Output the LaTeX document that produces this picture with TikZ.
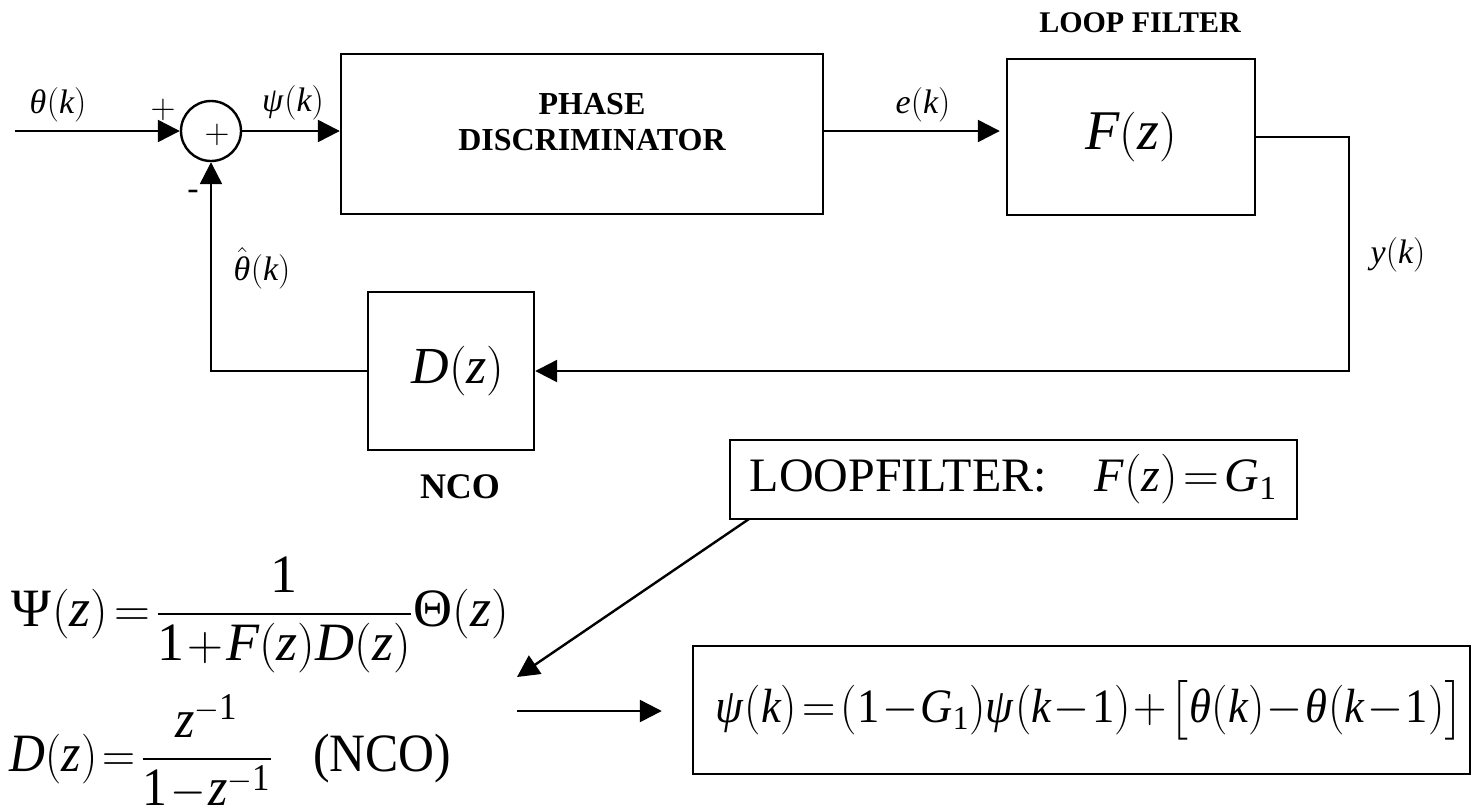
\documentclass[tikz,border=0pt]{standalone}
\usepackage{amsmath}
\usepackage{mathspec}
\setmainfont{Liberation Serif}
\setmathsfont(Digits,Latin,Greek){Liberation Serif}
\usetikzlibrary{arrows.meta, positioning}
\medmuskip=1mu\relax
\thickmuskip=2mu\relax

\begin{document}
\begin{tikzpicture}[x=0.5pt, y=-0.5pt, ->, >={Triangle[length=11pt,width=11pt]}, line width=1.2pt,
    block/.style={draw, rectangle, inner sep=0pt},
    sig/.style={font=\fontsize{17}{20}\selectfont},
    tag/.style={font=\bfseries\fontsize{16}{18}\selectfont, align=center},
    eq/.style={font=\fontsize{#1}{#1}\selectfont}]
    \useasboundingbox (0,0) rectangle (1472,810);
    	\node[circle, draw, minimum size=30pt, inner sep=0pt] (sum) at (211,131) {};
    	\node[block, minimum width=241pt, minimum height=80pt] (pd) at (582,134) {};
    	\node[block, minimum width=124pt, minimum height=78pt, font=\fontsize{28}{30}\selectfont] (F) at (1131,137) {$F(z)$};
    	\node[block, minimum width=83pt, minimum height=79pt, font=\fontsize{26}{28}\selectfont] (D) at (451,371) {\hspace{7pt}$D(z)$};
    	\node[block, minimum width=283.5pt, minimum height=39.5pt, eq=24] (lf) at (1013.5,479.5) {LOOPFILTER:\quad $F(z)=G_1$};
    	\node[block, minimum width=388.5pt, minimum height=64pt, eq=24] (psi) at (1081.5,710) {\hspace{8pt}\scalebox{0.93}[1]{$\psi(k)=(1-G_1)\psi(k-1)+\bigl[\theta(k)-\theta(k-1)\bigr]$}};
    	\coordinate (in) at (15,131);
    	\coordinate (corner) at (1349,137);
    	\coordinate (diagtop) at (749,519);
    	\coordinate (diagtip) at (517,677);
    	\coordinate (arrstart) at (517,711);
    	\node[tag] (pdtext) at (592,122) {PHASE\\DISCRIMINATOR};
    	\node[tag, font=\bfseries\fontsize{15}{17}\selectfont] (lftag) at (1140,23) {LOOP FILTER};
    	\node[tag, font=\bfseries\fontsize{18}{20}\selectfont] (ncotag) at (460,487) {NCO};
    	\node[sig] (thetain) at (58,105) {$\theta(k)$};
    	\node[sig] (plus) at (163,110) {$+$};
    	\node[sig] (plusin) at (217,135) {$+$};
    	\node[sig] (minus) at (193,195) {-};
    	\node[sig] (psik) at (293,103) {$\psi(k)$};
    	\node[sig] (ek) at (923,105) {$e(k)$};
    	\node[sig] (yk) at (1398,255) {$y(k)$};
    	\node[sig] (thetahat) at (262,268) {$\hat{\theta}(k)$};
    	\node[anchor=west, eq=27] (eqpsi) at (2,615) {$\Psi(z)=\dfrac{1}{1+F(z)D(z)}\Theta(z)$};
    	\node[anchor=west, eq=27] (eqd) at (2,752) {\scalebox{0.92}[1]{$D(z)=\dfrac{z^{-1}}{1-z^{-1}}$\hspace{22pt}(NCO)}};
    	\draw 	(in) -- (sum);
    	\draw 	(sum) -- (sum -| pd.west);
    	\draw[shorten >=3pt] 	(pd.east |- in) -- (pd.east |- in -| F.west);
    	\draw 	(F.east) -- (corner) |- (D.east);
    	\draw 	(D.west) -| (sum.south);
    	\draw 	(diagtop) -- (diagtip);
    	\draw[shorten >=15pt] 	(arrstart) -- (arrstart -| psi.west);
\end{tikzpicture}
\end{document}
